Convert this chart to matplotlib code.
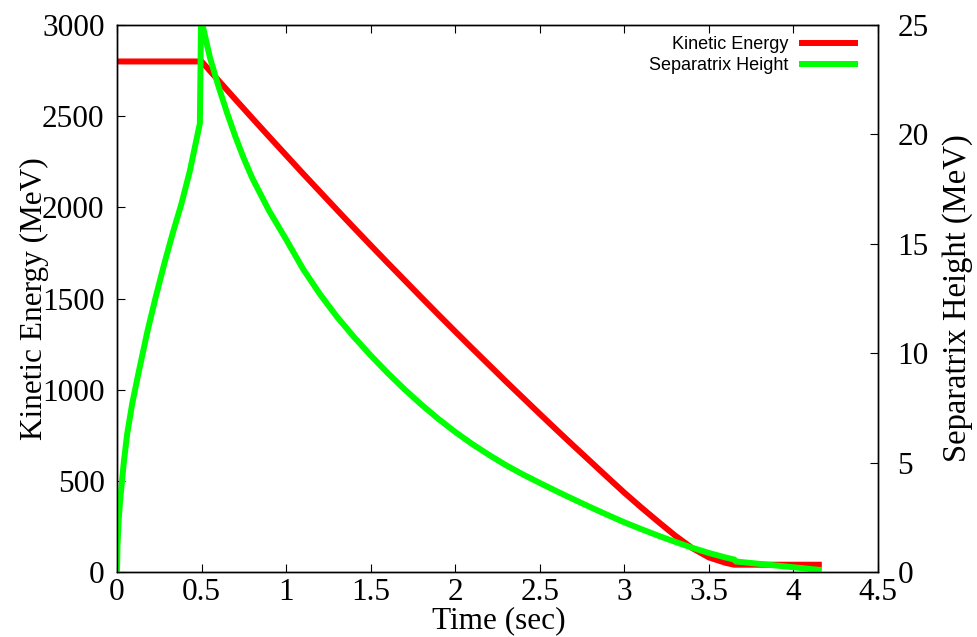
# Kinetic energy and separatrix height vs time (two y axes)

from matplotlib import pyplot as plt
import numpy as np

plt.rcParams['font.family'] = ['Liberation Serif', 'DejaVu Serif']

# kinetic energy (MeV), left axis
t_ke = [0.0, 0.5, 0.6, 0.7, 0.8, 0.9, 1.0, 1.1, 1.2, 1.3, 1.4, 1.5,
        1.6, 1.7, 1.8, 1.9, 2.0, 2.1, 2.2, 2.3, 2.4, 2.5, 2.6, 2.7,
        2.8, 2.9, 3.0, 3.1, 3.2, 3.3, 3.4, 3.5, 3.6, 3.65, 4.15]
ke = [2800, 2800, 2696, 2592, 2489, 2387, 2286, 2185, 2086, 1987, 1889, 1792,
      1696, 1601, 1506, 1412, 1319, 1227, 1136, 1045, 956, 867, 779, 692,
      606, 520, 435, 354, 276, 200, 132, 80, 50, 40, 40]

# separatrix height (MeV), right axis
t_sep = [0.0, 0.003, 0.01, 0.02, 0.04, 0.06, 0.09, 0.13, 0.18, 0.23,
         0.28, 0.33, 0.38, 0.43, 0.49, 0.497,
         0.55, 0.6, 0.65, 0.7, 0.75, 0.8, 0.9, 1.0, 1.1, 1.2, 1.3, 1.4, 1.5,
         1.6, 1.7, 1.8, 1.9, 2.0, 2.1, 2.2, 2.3, 2.4, 2.5, 2.6, 2.7,
         2.8, 2.9, 3.0, 3.1, 3.2, 3.3, 3.4, 3.5, 3.6, 3.65, 3.66, 4.15]
sep = [0.0, 1.2, 2.4, 3.4, 5.0, 6.3, 7.7, 9.2, 11.0, 12.6,
       14.1, 15.5, 16.8, 18.3, 20.5, 25.3,
       23.5, 22.2, 21.0, 19.9, 18.9, 18.0, 16.5, 15.2, 13.85, 12.7, 11.67, 10.75, 9.9,
       9.1, 8.35, 7.65, 7.0, 6.4, 5.85, 5.35, 4.88, 4.46, 4.07, 3.69, 3.32,
       2.96, 2.61, 2.27, 1.96, 1.66, 1.38, 1.11, 0.87, 0.66, 0.57, 0.48, 0.1]

xticks = np.arange(0, 4.51, 0.5)
xlabels = ['0', '0.5', '1', '1.5', '2', '2.5', '3', '3.5', '4', '4.5']

fig = plt.figure(figsize=(9.77, 6.37), dpi=100)
ax = fig.add_axes([117 / 977, 65 / 637, 761 / 977, 547 / 637])
ax2 = ax.twinx()

lw = 4.3
l1, = ax.plot(t_ke, ke, color='#ff0000', lw=lw, label='Kinetic Energy')
l2, = ax2.plot(t_sep, sep, color='#00ff00', lw=lw, label='Separatrix Height')

ax.set_xlim(0, 4.5)
ax.set_ylim(0, 3000)
ax2.set_ylim(0, 25)
ax.set_xticks(xticks)
ax.set_xticklabels(xlabels)
ax.set_yticks(np.arange(0, 3001, 500))
ax2.set_yticks(np.arange(0, 26, 5))

fs = 22.5
ax.tick_params(axis='x', direction='in', length=6, width=0.8, labelsize=fs,
               top=True, pad=4)
ax.tick_params(axis='y', direction='in', length=6, width=0.8, labelsize=fs, pad=9)
ax2.tick_params(axis='y', direction='in', length=6, width=0.8, labelsize=fs, pad=14)

for a in (ax, ax2):
    for s in a.spines.values():
        s.set_linewidth(1.0)

ax.set_xlabel('Time (sec)', fontsize=fs)
ax.set_ylabel('Kinetic Energy (MeV)', fontsize=fs)
ax2.set_ylabel('Separatrix Height (MeV)', fontsize=23.5)
ax.xaxis.set_label_coords(0.502, -0.062)
ax.yaxis.set_label_coords(-0.09, 0.5)
ax2.yaxis.set_label_coords(1.085, 0.5)

ax2.legend(handles=[l1, l2], loc='upper right', bbox_to_anchor=(0.97, 0.98),
           frameon=False, markerfirst=False, borderpad=0, borderaxespad=0,
           handlelength=2.95, handletextpad=0.75, labelspacing=0.25,
           prop={'family': 'Liberation Sans', 'size': 13})

plt.savefig('out.png', dpi=100)
